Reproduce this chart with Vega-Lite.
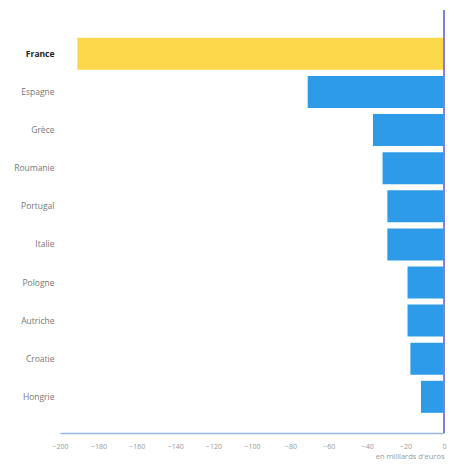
{
  "$schema": "https://vega.github.io/schema/vega-lite/v6.json",
  "autosize": "none",
  "width": 384,
  "height": 423,
  "padding": {"left": 60, "top": 10, "right": 15, "bottom": 32},
  "background": "white",
  "config": {"view": {"stroke": null}, "font": "Open Sans", "axisX": {"labelOverlap": false, "labelFlush": false}},
  "data": {"values": [
    {"pays": "France", "valeur": -191},
    {"pays": "Espagne", "valeur": -71},
    {"pays": "Grèce", "valeur": -37},
    {"pays": "Roumanie", "valeur": -32},
    {"pays": "Portugal", "valeur": -29.5},
    {"pays": "Italie", "valeur": -29.5},
    {"pays": "Pologne", "valeur": -19},
    {"pays": "Autriche", "valeur": -19},
    {"pays": "Croatie", "valeur": -17.5},
    {"pays": "Hongrie", "valeur": -12}
  ]},
  "encoding": {
    "x": {"field": "valeur", "type": "quantitative",
      "scale": {"domain": [-200, 0], "nice": false},
      "axis": {"values": [-200, -180, -160, -140, -120, -100, -80, -60, -40, -20, 0], "tickCount": 11, "grid": false, "ticks": false,
        "labelOverlap": false, "labelFlush": false,
        "domainColor": "#9ab8e6", "domainWidth": 1.5, "labelFontSize": 7, "labelColor": "#999", "labelPadding": 9,
        "title": "en milliards d'euros", "titleFontSize": 7.5, "titleFontWeight": "normal", "titleColor": "#999",
        "titleAnchor": "end", "titleAlign": "right", "titlePadding": 3}}
  },
  "layer": [
    {
      "mark": {"type": "bar"},
      "encoding": {
        "y": {"field": "pays", "type": "nominal", "sort": null,
          "scale": {"paddingInner": 0.16, "paddingOuter": 0.63, "align": 0.58},
          "axis": {"title": null, "ticks": false, "domain": false, "labelPadding": 6, "labelFontSize": 8.5,
            "labelColor": {"condition": {"test": "datum.value === 'France'", "value": "#222"}, "value": "#777"},
            "labelFontWeight": {"condition": {"test": "datum.value === 'France'", "value": "bold"}, "value": "normal"}}},
        "color": {"condition": {"test": "datum.pays === 'France'", "value": "#FDD84A"}, "value": "#2E9BE8"}
      }
    },
    {
      "mark": {"type": "rule", "color": "#7d83d8", "strokeWidth": 1},
      "encoding": {"x": {"datum": 0}}
    }
  ]
}
